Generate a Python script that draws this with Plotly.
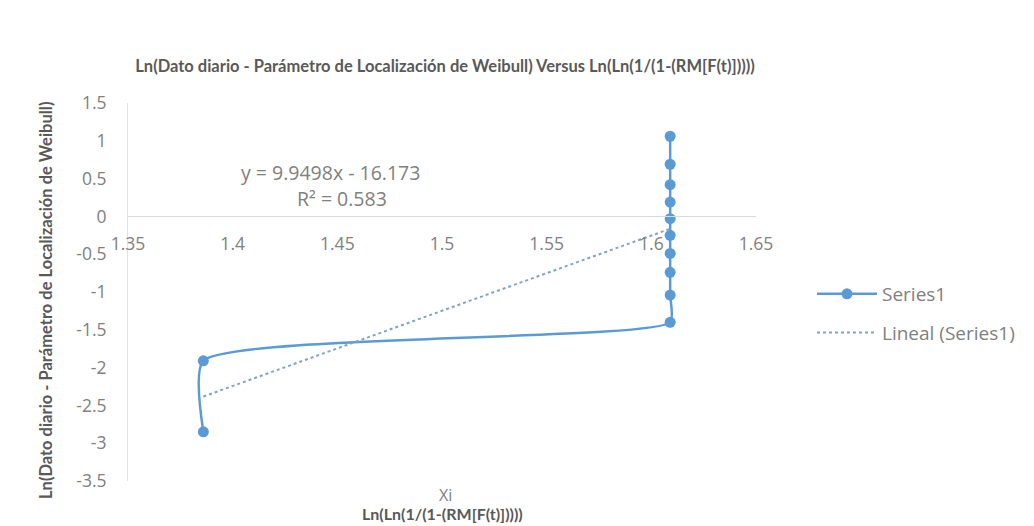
import plotly.graph_objects as go

# Weibull plot data: Ln(Ln(1/(1-RM[F(t)]))) vs Ln(daily value - location parameter)
x_vals = [1.386, 1.386, 1.609, 1.609, 1.609, 1.609, 1.609, 1.609, 1.609, 1.609, 1.609, 1.609]
y_vals = [-2.85, -1.91, -1.40, -1.04, -0.74, -0.49, -0.25, -0.03, 0.19, 0.42, 0.69, 1.06]

# Linear trendline coefficients and fit quality
slope = 9.9498
intercept = -16.173
r_squared = 0.583

x_ticks = [1.35, 1.40, 1.45, 1.50, 1.55, 1.60, 1.65]
x_tick_text = ["1.35", "1.4", "1.45", "1.5", "1.55", "1.6", "1.65"]
y_ticks = [1.5, 1.0, 0.5, 0.0, -0.5, -1.0, -1.5, -2.0, -2.5, -3.0, -3.5]
y_tick_text = ["1.5", "1", "0.5", "0", "-0.5", "-1", "-1.5", "-2", "-2.5", "-3", "-3.5"]

title_text = "Ln(Dato diario - Parámetro de Localización de Weibull) Versus Ln(Ln(1/(1-(RM[F(t)]))))"
y_title = "Ln(Dato diario - Parámetro de Localización de Weibull)"
x_title_1 = "Xi"
x_title_2 = "Ln(Ln(1/(1-(RM[F(t)]))))"

BOLD_FONT = "Lato"
FONT = "Open Sans"
BLUE = "#5b9bd5"
DARK = "#595959"
TICK = "#808080"

# plot area in pixels
L, R, T, B = 128, 756, 103, 481
PW, PH = R - L, B - T

trend_x = [min(x_vals), max(x_vals)]
trend_y = [slope * v + intercept for v in trend_x]

fig = go.Figure()
fig.add_trace(go.Scatter(
    x=x_vals, y=y_vals, name="Series1", mode="lines+markers",
    line=dict(color=BLUE, width=2.5, shape="spline", smoothing=0.55),
    marker=dict(color=BLUE, size=11),
    legendgroup="a",
))
fig.add_trace(go.Scatter(
    x=trend_x, y=trend_y, name="Lineal (Series1)", mode="lines",
    line=dict(color="#82a3c4", width=2, dash="dot"),
    legendgroup="b",
))

eq_text = f"y = {slope}x - {abs(intercept)}"
r2_text = f"R² = {r_squared}"


def px_x(p):
    return (p - L) / PW


def px_y(p):
    return (B - p) / PH


def label(text, x, y, size, color, family, **kw):
    return dict(text=text, x=px_x(x), y=px_y(y), xref="paper", yref="paper",
                xanchor="center", yanchor="middle", showarrow=False,
                font=dict(size=size, color=color, family=family), **kw)


fig.update_layout(
    width=1034, height=526,
    margin=dict(l=L, r=1034 - R, t=T, b=526 - B),
    paper_bgcolor="white", plot_bgcolor="white",
    font=dict(family=FONT, color=DARK),
    title=dict(text="<b>" + title_text + "</b>", x=px_x(445), xref="paper",
               y=1 - 66 / 526, yanchor="middle", xanchor="center",
               font=dict(size=16.5, color=DARK, family=BOLD_FONT)),
    showlegend=True,
    legend=dict(x=px_x(812), y=px_y(275), xanchor="left", yanchor="top",
                itemwidth=60,
                font=dict(size=19, color=TICK, family=FONT),
                tracegroupgap=11, bgcolor="rgba(0,0,0,0)"),
    xaxis=dict(range=[1.35, 1.65], tickvals=x_ticks, ticktext=x_tick_text,
               anchor="free", position=px_y(216), showgrid=False, zeroline=False,
               showline=True, linecolor="#d9d9d9", linewidth=1, ticks="",
               ticklabelstandoff=12,
               tickfont=dict(size=17.5, color=TICK, family=FONT)),
    yaxis=dict(range=[-3.5, 1.5], tickvals=y_ticks, ticktext=y_tick_text,
               showgrid=False, zeroline=False, showline=True,
               linecolor="#e3e3e3", linewidth=1, ticks="",
               ticklabelstandoff=17,
               tickfont=dict(size=17.5, color=TICK, family=FONT)),
    annotations=[
        label(eq_text, 330, 172, 19.5, TICK, FONT),
        label(r2_text, 342, 198, 19.5, TICK, FONT),
        label("<b>" + y_title + "</b>", 46, 301, 16.5, DARK, BOLD_FONT, textangle=-90),
        label(x_title_1, 445, 495, 16, TICK, FONT),
        label("<b>" + x_title_2 + "</b>", 442, 513, 16, DARK, BOLD_FONT),
    ],
)

fig.write_html("out.html")
